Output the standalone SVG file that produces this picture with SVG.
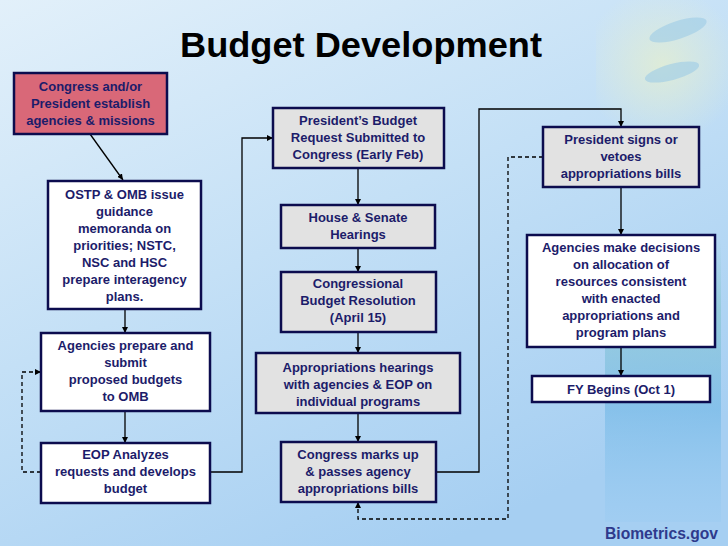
<svg xmlns="http://www.w3.org/2000/svg" width="728" height="546" viewBox="0 0 728 546">
<defs>
<linearGradient id="bg" x1="0" y1="0" x2="0.6" y2="1">
<stop offset="0" stop-color="#e2f0fa"/>
<stop offset="0.5" stop-color="#c4e0f6"/>
<stop offset="1" stop-color="#a6cff2"/>
</linearGradient>
<linearGradient id="wave" x1="0" y1="0" x2="0" y2="1">
<stop offset="0" stop-color="#78c0c4" stop-opacity="0"/>
<stop offset="0.25" stop-color="#78c0c4" stop-opacity="0.45"/>
<stop offset="0.6" stop-color="#6ab4e4" stop-opacity="0.55"/>
<stop offset="1" stop-color="#8cc6f0" stop-opacity="0.2"/>
</linearGradient>
<radialGradient id="face" cx="0.5" cy="0.5" r="0.6">
<stop offset="0" stop-color="#e8f0cc" stop-opacity="0.7"/>
<stop offset="1" stop-color="#e8f0cc" stop-opacity="0"/>
</radialGradient>
<marker id="ah" viewBox="0 0 10 10" refX="10" refY="5" markerWidth="6" markerHeight="6" markerUnits="userSpaceOnUse" orient="auto">
<path d="M0,0 L10,5 L0,10 z" fill="#000"/>
</marker>
<style>
.box{stroke:#0c0c4e;stroke-width:2.5}
.red{fill:#d96878}
.wht{fill:#ffffff}
.gry{fill:#e2e2e2}
.t{font-family:"Liberation Sans",Arial,sans-serif;font-weight:bold;font-size:13px;fill:#1c1c6a;text-anchor:middle}
.c{fill:none;stroke:#000;stroke-width:1.3}
.d{fill:none;stroke:#000;stroke-width:1.3;stroke-dasharray:4,3}
</style>
</defs>
<rect width="728" height="546" fill="url(#bg)"/>
<g id="decor">
<rect x="596" y="0" width="132" height="130" fill="url(#face)"/>
<ellipse cx="678" cy="30" rx="30" ry="9" fill="#9ccbe6" opacity="0.6" transform="rotate(-18 678 30)"/>
<ellipse cx="672" cy="72" rx="28" ry="8" fill="#9ccbe6" opacity="0.6" transform="rotate(-15 672 72)"/>
<rect x="605" y="240" width="116" height="282" fill="url(#wave)"/>
</g>
<text x="361" y="57" font-family="'Liberation Sans',Arial,sans-serif" font-weight="bold" font-size="35" fill="#000" text-anchor="middle" textLength="362" lengthAdjust="spacingAndGlyphs">Budget Development</text>
<g id="connectors">
<path class="c" d="M90,134 L123,180" marker-end="url(#ah)"/>
<path class="c" d="M125,309 V333" marker-end="url(#ah)"/>
<path class="c" d="M125,411 V443" marker-end="url(#ah)"/>
<path class="d" d="M41,472 H22 V372 H41" marker-end="url(#ah)"/>
<path class="c" d="M210,472 H242 V138 H273" marker-end="url(#ah)"/>
<path class="c" d="M358,168 V205" marker-end="url(#ah)"/>
<path class="c" d="M358,248 V272" marker-end="url(#ah)"/>
<path class="c" d="M358,332 V353" marker-end="url(#ah)"/>
<path class="c" d="M358,413 V442" marker-end="url(#ah)"/>
<path class="c" d="M436,472 H479 V109 H621 V127" marker-end="url(#ah)"/>
<path class="d" d="M543,157 H508 V519 H358 V502" marker-end="url(#ah)"/>
<path class="c" d="M621,187 V235" marker-end="url(#ah)"/>
<path class="c" d="M621,347 V376" marker-end="url(#ah)"/>
</g>
<g id="n1"><rect class="box red" x="14" y="73" width="153" height="61"/>
<text class="t" x="90.5" y="91">Congress and/or</text><text class="t" x="90.5" y="108">President establish</text><text class="t" x="90.5" y="125">agencies &amp; missions</text></g>
<g id="n2"><rect class="box wht" x="48" y="181" width="153" height="128"/>
<text class="t" x="124.5" y="199">OSTP &amp; OMB issue</text><text class="t" x="124.5" y="216">guidance</text><text class="t" x="124.5" y="233">memoranda on</text><text class="t" x="124.5" y="250">priorities; NSTC,</text><text class="t" x="124.5" y="267">NSC and HSC</text><text class="t" x="124.5" y="284">prepare interagency</text><text class="t" x="124.5" y="301">plans.</text></g>
<g id="n3"><rect class="box wht" x="41" y="333" width="169" height="78"/>
<text class="t" x="125.5" y="350">Agencies prepare and</text><text class="t" x="125.5" y="367">submit</text><text class="t" x="125.5" y="384">proposed budgets</text><text class="t" x="125.5" y="401">to OMB</text></g>
<g id="n4"><rect class="box wht" x="41" y="443" width="169" height="60"/>
<text class="t" x="125.5" y="459">EOP Analyzes</text><text class="t" x="125.5" y="476">requests and develops</text><text class="t" x="125.5" y="493">budget</text></g>
<g id="n5"><rect class="box gry" x="273" y="108" width="171" height="60"/>
<text class="t" x="358" y="125">President’s Budget</text><text class="t" x="358" y="142">Request Submitted to</text><text class="t" x="358" y="159">Congress (Early Feb)</text></g>
<g id="n6"><rect class="box gry" x="281" y="205" width="154" height="43"/>
<text class="t" x="358" y="222">House &amp; Senate</text><text class="t" x="358" y="239">Hearings</text></g>
<g id="n7"><rect class="box gry" x="281" y="272" width="155" height="60"/>
<text class="t" x="358" y="288">Congressional</text><text class="t" x="358" y="305">Budget Resolution</text><text class="t" x="358" y="322">(April 15)</text></g>
<g id="n8"><rect class="box gry" x="256" y="353" width="204" height="60"/>
<text class="t" x="358" y="372">Appropriations hearings</text><text class="t" x="358" y="389">with agencies &amp; EOP on</text><text class="t" x="358" y="406">individual programs</text></g>
<g id="n9"><rect class="box gry" x="281" y="442" width="155" height="60"/>
<text class="t" x="358" y="459">Congress marks up</text><text class="t" x="358" y="476">&amp; passes agency</text><text class="t" x="358" y="493">appropriations bills</text></g>
<g id="n10"><rect class="box gry" x="543" y="127" width="156" height="60"/>
<text class="t" x="621" y="144">President signs or</text><text class="t" x="621" y="161">vetoes</text><text class="t" x="621" y="178">appropriations bills</text></g>
<g id="n11"><rect class="box wht" x="527" y="235" width="188" height="112"/>
<text class="t" x="621" y="252">Agencies make decisions</text><text class="t" x="621" y="269">on allocation of</text><text class="t" x="621" y="286">resources consistent</text><text class="t" x="621" y="303">with enacted</text><text class="t" x="621" y="320">appropriations and</text><text class="t" x="621" y="337">program plans</text></g>
<g id="n12"><rect class="box wht" x="532" y="376" width="178" height="26"/>
<text class="t" x="621" y="394">FY Begins (Oct 1)</text></g>
<text x="718" y="539" font-family="'Liberation Sans',Arial,sans-serif" font-weight="bold" font-size="16" fill="#2e3a8c" text-anchor="end" textLength="113" lengthAdjust="spacingAndGlyphs">Biometrics.gov</text>
</svg>
